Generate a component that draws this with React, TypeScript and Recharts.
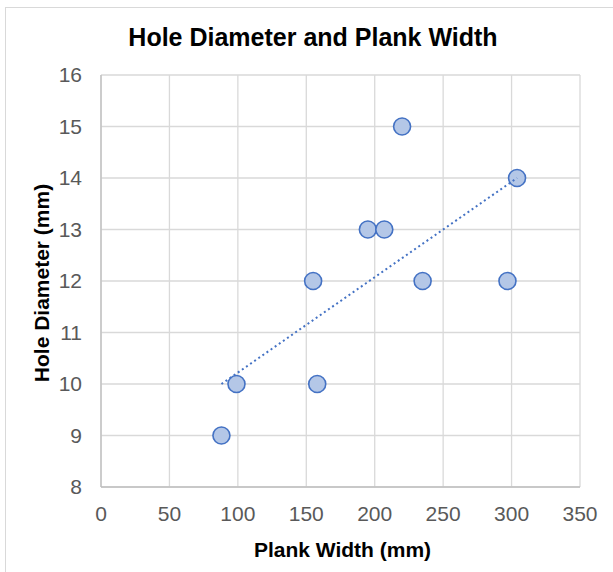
import { ScatterChart, Scatter, XAxis, YAxis, CartesianGrid, Label } from "recharts";

const plankWidth = [88, 99, 155, 158, 195, 207, 220, 235, 297, 304];
const holeDiameter = [9, 10, 12, 10, 13, 13, 15, 12, 12, 14];
const trendWidth = [88, 304];
const trendDiameter = [10, 14];
const xTicks = [0, 50, 100, 150, 200, 250, 300, 350];
const yTicks = [8, 9, 10, 11, 12, 13, 14, 15, 16];

const points = plankWidth.map((w, i) => ({ w, d: holeDiameter[i] }));
const trend = trendWidth.map((w, i) => ({ w, d: trendDiameter[i] }));

const FONT = "'Liberation Sans', Arial, sans-serif";

function Dot({ cx, cy }: { cx?: number; cy?: number }) {
  return <circle cx={cx} cy={cy} r={8.5} fill="#b4c7e7" stroke="#4472c4" strokeWidth={1.6} />;
}

function YTitle({ viewBox }: any) {
  const cy = viewBox.y + viewBox.height / 2 + 2;
  return (
    <text x={41} y={cy} transform={`rotate(-90, 41, ${cy})`} textAnchor="middle"
      dominantBaseline="central" fontFamily={FONT} fontWeight="bold" fontSize={21} fill="#000">
      Hole Diameter (mm)
    </text>
  );
}

function XTitle({ viewBox }: any) {
  return (
    <text x={viewBox.x + viewBox.width / 2 + 2} y={viewBox.y + 62} textAnchor="middle"
      dominantBaseline="central" fontFamily={FONT} fontWeight="bold" fontSize={21} fill="#000">
      Plank Width (mm)
    </text>
  );
}

export default function App() {
  return (
    <div style={{ position: "absolute", left: 0, top: 0, width: 613, height: 572, overflow: "hidden", background: "#fff" }}>
      <div style={{ position: "absolute", left: 5, top: 7, width: 640, height: 600, border: "1px solid #d9d9d9" }} />
      <div style={{
        position: "absolute", left: 0, top: 23, width: 626, textAlign: "center", lineHeight: "29px",
        fontFamily: FONT, fontWeight: "bold", fontSize: 25, color: "#000",
      }}>
        Hole Diameter and Plank Width
      </div>
      <div style={{ position: "absolute", left: 0, top: 0 }}>
        <ScatterChart width={613} height={572} margin={{ top: 75, right: 33, left: 0, bottom: 0 }}>
          <CartesianGrid stroke="#d9d9d9" strokeWidth={1.3} />
          <XAxis type="number" dataKey="w" domain={[0, 350]} ticks={xTicks} height={85}
            axisLine={{ stroke: "#bfbfbf", strokeWidth: 1.3 }} tickLine={false} tickSize={0} tickMargin={19}
            tick={{ fontSize: 21, fill: "#595959", fontFamily: FONT }} interval={0}>
            <Label content={<XTitle />} />
          </XAxis>
          <YAxis type="number" dataKey="d" domain={[8, 16]} ticks={yTicks} width={101}
            axisLine={{ stroke: "#bfbfbf", strokeWidth: 1.3 }} tickLine={false} tickSize={0} tickMargin={19}
            tick={{ fontSize: 21, fill: "#595959", fontFamily: FONT }} interval={0}>
            <Label content={<YTitle />} />
          </YAxis>
          <Scatter data={points} shape={<Dot />} isAnimationActive={false} />
          <Scatter data={trend} shape={() => <g />} isAnimationActive={false}
            line={{ stroke: "#4472c4", strokeWidth: 2, strokeDasharray: "2 3" }} />
        </ScatterChart>
      </div>
    </div>
  );
}
